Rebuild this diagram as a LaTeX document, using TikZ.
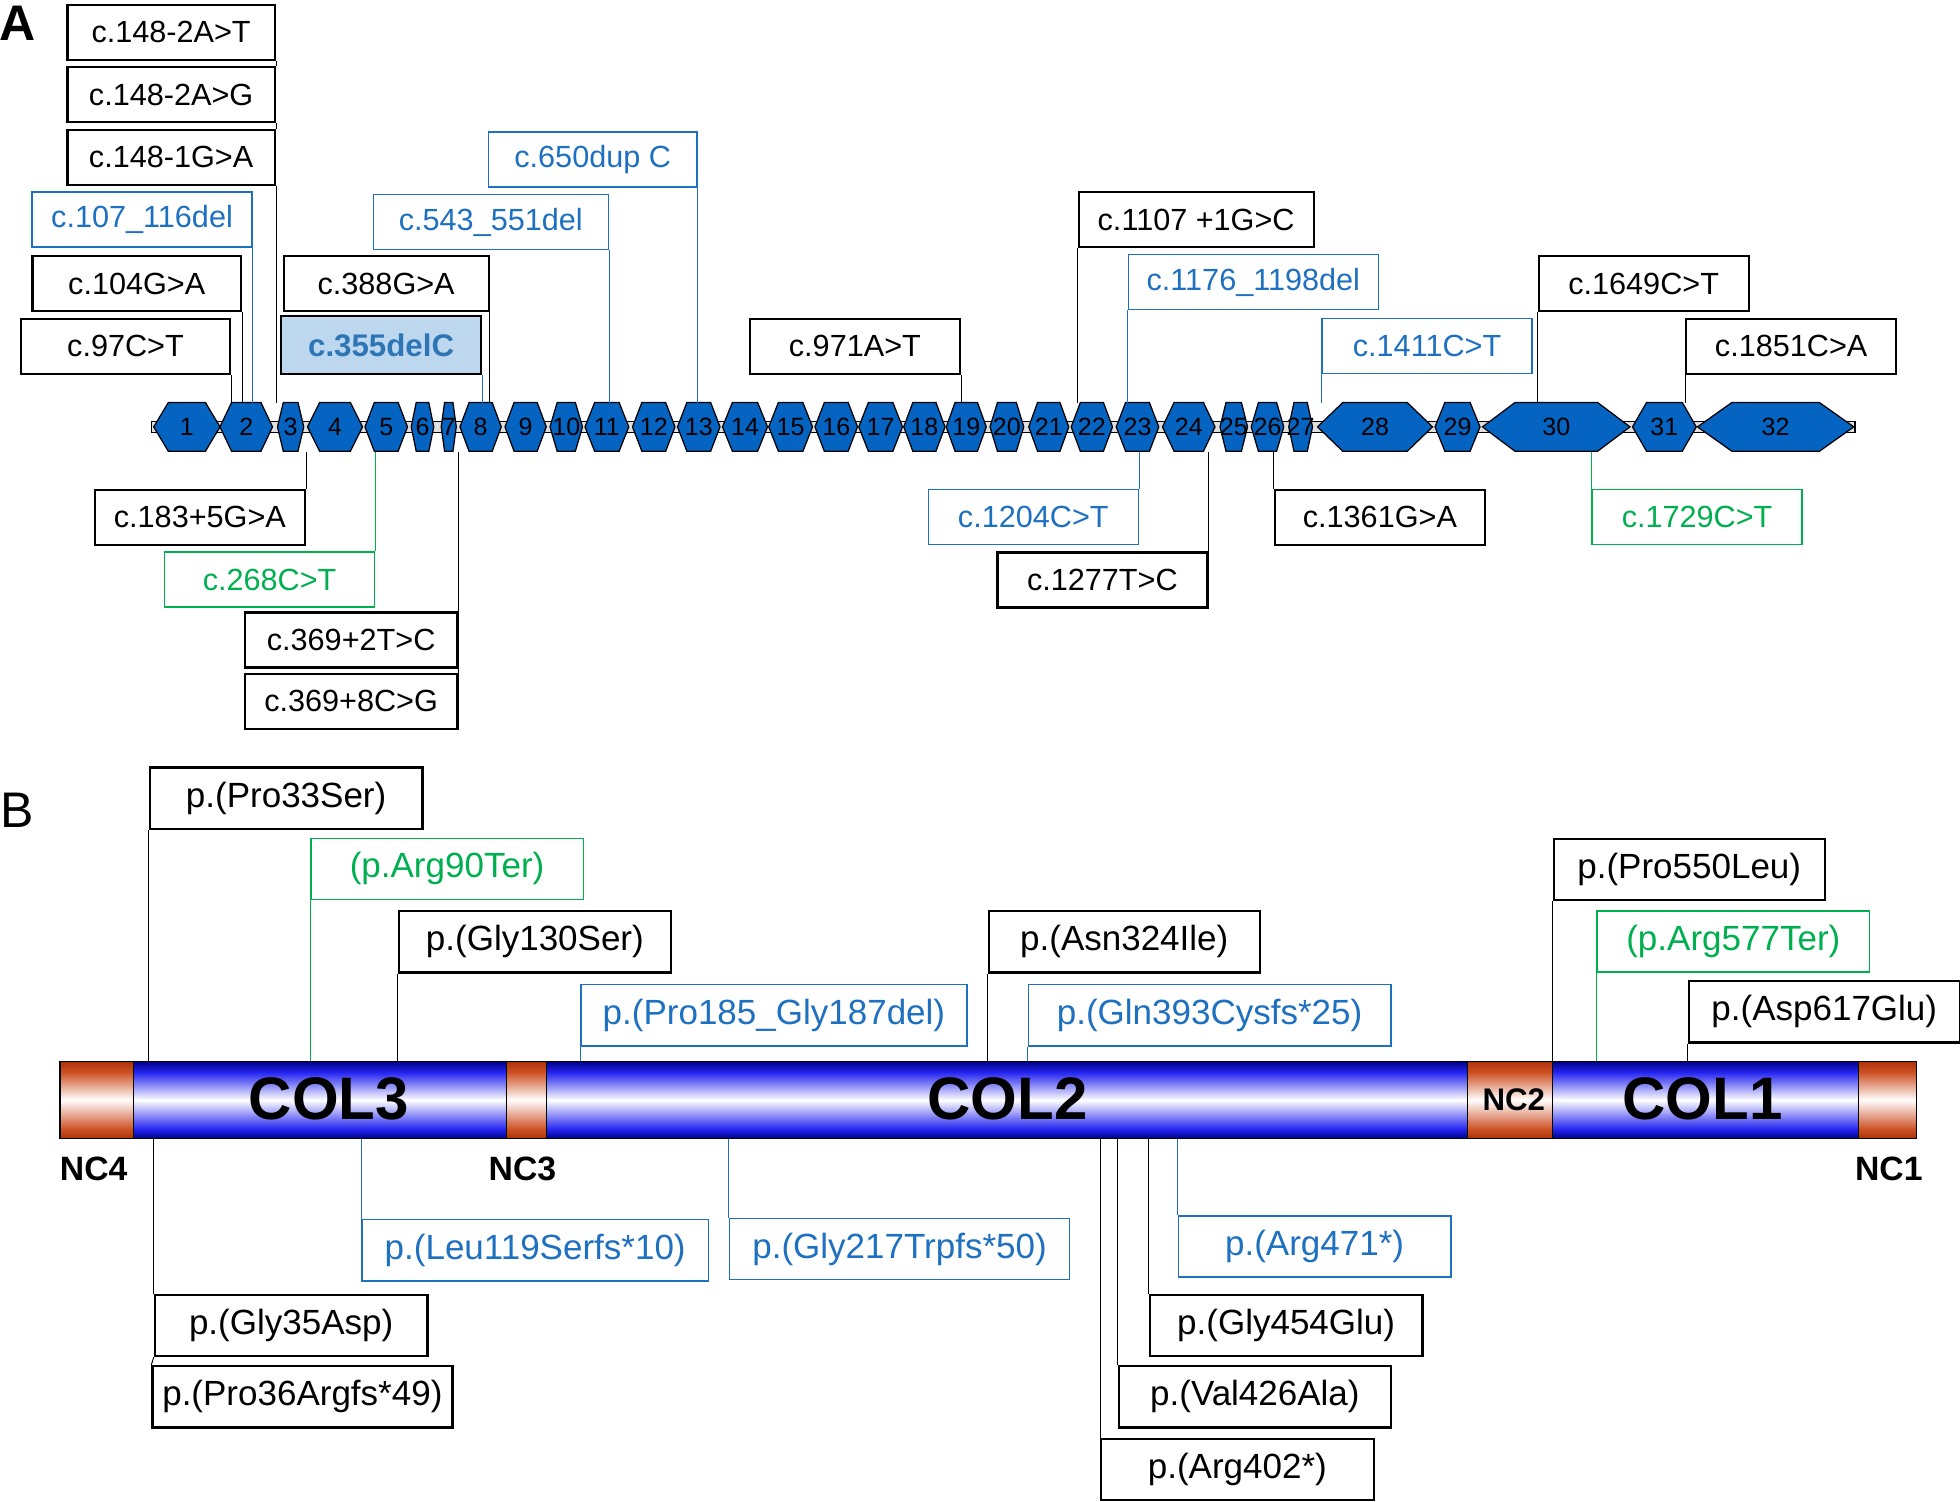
\documentclass[tikz,border=0pt]{standalone}
\usepackage{fontspec}
\setmainfont{Liberation Sans}
\definecolor{mutblue}{RGB}{30,112,192}
\definecolor{mutgreen}{RGB}{0,176,80}
\definecolor{exblue}{RGB}{5,99,193}
\definecolor{selfill}{RGB}{189,215,238}
\definecolor{seltext}{RGB}{46,117,182}
\definecolor{bardark}{RGB}{0,0,130}
\definecolor{barblue}{RGB}{35,35,240}
\definecolor{ncdark}{RGB}{170,50,10}
\definecolor{ncred}{RGB}{205,80,35}
\pgfdeclareverticalshading{colshade}{100bp}{color(0bp)=(bardark); color(25bp)=(bardark); color(31bp)=(barblue); color(50bp)=(white); color(68bp)=(barblue); color(75bp)=(bardark); color(100bp)=(bardark)}
\pgfdeclareverticalshading{ncshade}{100bp}{color(0bp)=(ncdark); color(25bp)=(ncdark); color(31bp)=(ncred); color(50bp)=(white); color(68bp)=(ncred); color(75bp)=(ncdark); color(100bp)=(ncdark)}
\newcommand{\Exon}[3]{%
  \pgfmathsetmacro{\exd}{0.22*(#3-#2)}%
  \draw[exon] (#2,341.5) -- ({#2+\exd},322) -- ({#3-\exd},322) -- (#3,341.5) -- ({#3-\exd},361) -- ({#2+\exd},361) -- cycle;
  \node[exnum] (ex#1) at ({(#2+#3)/2},341.5) {#1};}

\begin{document}
\begin{tikzpicture}[x=1pt,y=-1pt]
\useasboundingbox (0,0) rectangle (1568,1201);
\tikzset{mut/.style={draw=black, line width=1.8pt, fill=white, inner sep=0pt, anchor=north west, minimum height=44pt, text=black, font=\fontsize{24.5}{28}\selectfont}}
\tikzset{mutb/.style={mut, draw=mutblue, line width=1.3pt, text=mutblue}}
\tikzset{mutg/.style={mut, draw=mutgreen, line width=1.3pt, text=mutgreen}}
\tikzset{mutsel/.style={mut, fill=selfill, text=seltext, font=\fontsize{25}{28}\selectfont\bfseries}}
\tikzset{prot/.style={mut, minimum height=49pt, font=\fontsize{28}{32}\selectfont}}
\tikzset{protb/.style={prot, draw=mutblue, line width=1.3pt, text=mutblue}}
\tikzset{protg/.style={prot, draw=mutgreen, line width=1.3pt, text=mutgreen}}
\tikzset{link/.style={draw=black, line width=0.8pt}}
\tikzset{linkb/.style={draw=mutblue, line width=0.8pt}}
\tikzset{linkg/.style={draw=mutgreen, line width=0.8pt}}
\tikzset{exon/.style={fill=exblue, draw=black, line width=1pt}}
\tikzset{exnum/.style={inner sep=0pt, font=\fontsize{20}{22}\selectfont}}
\tikzset{dombox/.style={inner sep=0pt, font=\fontsize{48}{52}\selectfont\bfseries}}
\tikzset{nclab/.style={inner sep=0pt, font=\fontsize{27}{30}\selectfont\bfseries}}

\node[inner sep=0pt, font=\fontsize{40}{44}\selectfont\bfseries] (panelA) at (14,19) {A};
\node[inner sep=0pt, font=\fontsize{40}{44}\selectfont] (panelB) at (14,648) {B};

\node[inner sep=0pt, minimum width=1363pt, minimum height=39pt, anchor=north west] (row) at (121,322) {};
\draw[fill=gray!25, line width=1pt] (121,337) rectangle (1484,346);
\Exon{1}{123}{176}
\Exon{2}{176}{218}
\Exon{3}{222}{243}
\Exon{4}{246}{290}
\Exon{5}{292}{326}
\Exon{6}{329}{347}
\Exon{7}{353}{365}
\Exon{8}{368}{401}
\Exon{9}{404}{437}
\Exon{10}{440}{466}
\Exon{11}{468}{503}
\Exon{12}{506}{540}
\Exon{13}{542}{576}
\Exon{14}{578}{614}
\Exon{15}{615}{650}
\Exon{16}{652}{686}
\Exon{17}{687}{722}
\Exon{18}{723}{756}
\Exon{19}{757}{789}
\Exon{20}{792}{819}
\Exon{21}{823}{855}
\Exon{22}{857}{890}
\Exon{23}{893}{927}
\Exon{24}{930}{972}
\Exon{25}{976}{998}
\Exon{26}{1001}{1027}
\Exon{27}{1031}{1050}
\Exon{28}{1054}{1146}
\Exon{29}{1148}{1184}
\Exon{30}{1186}{1304}
\Exon{31}{1306}{1357}
\Exon{32}{1358}{1483}

\node[mut, minimum width=166pt] (m148c) at (53,3) {c.148-2A>T};
\node[mut, minimum width=166pt] (m148b) at (53,53) {c.148-2A>G};
\node[mut, minimum width=166pt] (m148a) at (53,103) {c.148-1G>A};
\node[mutb, minimum width=176pt] (m107) at (25,153) {c.107\_116del};
\node[mut, minimum width=167pt] (m104) at (25,204) {c.104G>A};
\node[mut, minimum width=167pt] (m97) at (16,254) {c.97C>T};
\node[mut, minimum width=164pt] (m388) at (226,204) {c.388G>A};
\node[mutsel, minimum width=160pt, minimum height=46pt] (m355) at (224,252) {c.355delC};
\node[mutb, minimum width=188pt] (m543) at (298,155) {c.543\_551del};
\node[mutb, minimum width=167pt] (m650) at (390,105) {c.650dup C};
\node[mut, minimum width=168pt] (m971) at (599,254) {c.971A>T};
\node[mut, minimum width=188pt] (m1107) at (862,153) {c.1107 +1G>C};
\node[mutb, minimum width=200pt] (m1176) at (902,203) {c.1176\_1198del};
\node[mutb, minimum width=168pt] (m1411) at (1057,254) {c.1411C>T};
\node[mut, minimum width=168pt] (m1649) at (1230,204) {c.1649C>T};
\node[mut, minimum width=168pt] (m1851) at (1348,254) {c.1851C>A};
\node[mut, minimum width=168pt] (m183) at (75,391) {c.183+5G>A};
\node[mutg, minimum width=168pt] (m268) at (131,441) {c.268C>T};
\node[mut, minimum width=170pt] (m369a) at (195,489) {c.369+2T>C};
\node[mut, minimum width=170pt] (m369b) at (195,538) {c.369+8C>G};
\node[mutb, minimum width=168pt] (m1204) at (742,391) {c.1204C>T};
\node[mut, minimum width=168pt] (m1277) at (797,441) {c.1277T>C};
\node[mut, minimum width=168pt] (m1361) at (1019,391) {c.1361G>A};
\node[mutg, minimum width=168pt] (m1729) at (1273,391) {c.1729C>T};

\draw[link] (m148c.south east) -- (m148b.north east);
\draw[link] (m148b.south east) -- (m148a.north east);
\draw[link] (m148a.south east) -- (m148a.south east |- row.north);
\draw[linkb] (m107.south east) -- (m107.south east |- row.north);
\draw[link] (m104.south east) -- (m104.south east |- row.north);
\draw[link] (m97.south east) -- (m97.south east |- row.north);
\draw[link] (m388.south east) -- (m388.south east |- row.north);
\draw[linkb] (m355.south east) -- (m355.south east |- row.north);
\draw[linkb] (m543.south east) -- (m543.south east |- row.north);
\draw[linkb] (m650.south east) -- (m650.south east |- row.north);
\draw[link] (m971.south east) -- (m971.south east |- row.north);
\draw[link] (m1107.south west) -- (m1107.south west |- row.north);
\draw[linkb] (m1176.south west) -- (m1176.south west |- row.north);
\draw[linkb] (m1411.south west) -- (m1411.south west |- row.north);
\draw[link] (m1649.south west) -- (m1649.south west |- row.north);
\draw[link] (m1851.south west) -- (m1851.south west |- row.north);
\draw[link] (m183.north east) -- (m183.north east |- row.south);
\draw[linkg] (m268.north east) -- (m268.north east |- row.south);
\draw[link] (m369a.north east) -- (m369a.north east |- row.south);
\draw[link] (m369b.north east) -- (m369a.south east);
\draw[linkb] (m1204.north east) -- (m1204.north east |- row.south);
\draw[link] (m1277.north east) -- (m1277.north east |- row.south);
\draw[link] (m1361.north west) -- (m1361.north west |- row.south);
\draw[linkg] (m1729.north west) -- (m1729.north west |- row.south);

\node[inner sep=0pt, minimum width=1485pt, minimum height=62pt, anchor=north west] (bar) at (48,849) {};
\shadedraw[shading=ncshade, line width=1pt] (48,849) rectangle (107,911);
\shadedraw[shading=colshade, line width=1pt] (107,849) rectangle (405,911);
\shadedraw[shading=ncshade, line width=1pt] (405,849) rectangle (437,911);
\shadedraw[shading=colshade, line width=1pt] (437,849) rectangle (1174,911);
\shadedraw[shading=ncshade, line width=1pt] (1174,849) rectangle (1242,911);
\shadedraw[shading=colshade, line width=1pt] (1242,849) rectangle (1487,911);
\shadedraw[shading=ncshade, line width=1pt] (1487,849) rectangle (1533,911);
\node[dombox] (col3) at (263,879) {COL3};
\node[dombox] (col2) at (806,879) {COL2};
\node[dombox] (col1) at (1362,879) {COL1};
\node[nclab, font=\fontsize{25}{28}\selectfont\bfseries] (nc2) at (1211,880) {NC2};
\node[nclab] (nc4) at (75,935) {NC4};
\node[nclab] (nc3) at (418,935) {NC3};
\node[nclab] (nc1) at (1511,935) {NC1};

\node[prot, minimum width=218pt] (pPro33) at (119,613) {p.(Pro33Ser)};
\node[protg, minimum width=218pt] (pArg90) at (248,670) {(p.Arg90Ter)};
\node[prot, minimum width=218pt] (pGly130) at (318,728) {p.(Gly130Ser)};
\node[protb, minimum width=309pt] (pPro185) at (464,787) {p.(Pro185\_Gly187del)};
\node[prot, minimum width=217pt] (pAsn324) at (790,728) {p.(Asn324Ile)};
\node[protb, minimum width=290pt] (pGln393) at (822,787) {p.(Gln393Cysfs*25)};
\node[prot, minimum width=217pt] (pPro550) at (1242,670) {p.(Pro550Leu)};
\node[protg, minimum width=218pt] (pArg577) at (1277,728) {(p.Arg577Ter)};
\node[prot, minimum width=217pt] (pAsp617) at (1350,784) {p.(Asp617Glu)};
\node[protb, minimum width=277pt] (pLeu119) at (289,975) {p.(Leu119Serfs*10)};
\node[protb, minimum width=272pt] (pGly217) at (583,974) {p.(Gly217Trpfs*50)};
\node[protb, minimum width=218pt] (pArg471) at (942,972) {p.(Arg471*)};
\node[prot, minimum width=218pt] (pGly454) at (919,1035) {p.(Gly454Glu)};
\node[prot, minimum width=218pt] (pVal426) at (894,1092) {p.(Val426Ala)};
\node[prot, minimum width=218pt] (pArg402) at (880,1150) {p.(Arg402*)};
\node[prot, minimum width=218pt] (pGly35) at (123,1035) {p.(Gly35Asp)};
\node[prot, minimum width=240pt] (pPro36) at (121,1092) {p.(Pro36Argfs*49)};

\draw[link] (pPro33.south west) -- (pPro33.south west |- bar.north);
\draw[linkg] (pArg90.south west) -- (pArg90.south west |- bar.north);
\draw[link] (pGly130.south west) -- (pGly130.south west |- bar.north);
\draw[linkb] (pPro185.south west) -- (pPro185.south west |- bar.north);
\draw[link] (pAsn324.south west) -- (pAsn324.south west |- bar.north);
\draw[linkb] (pGln393.south west) -- (pGln393.south west |- bar.north);
\draw[link] (pPro550.south west) -- (pPro550.south west |- bar.north);
\draw[linkg] (pArg577.south west) -- (pArg577.south west |- bar.north);
\draw[link] (pAsp617.south west) -- (pAsp617.south west |- bar.north);
\draw[linkb] (pLeu119.north west) -- (pLeu119.north west |- bar.south);
\draw[linkb] (pGly217.north west) -- (pGly217.north west |- bar.south);
\draw[linkb] (pArg471.north west) -- (pArg471.north west |- bar.south);
\draw[link] (pGly454.north west) -- (pGly454.north west |- bar.south);
\draw[link] (pVal426.north west) -- (pVal426.north west |- bar.south);
\draw[link] (pArg402.north west) -- (pArg402.north west |- bar.south);
\draw[link] (pGly35.north west) -- (pGly35.north west |- bar.south);
\draw[link] (pPro36.north west) -- (pGly35.south west);
\end{tikzpicture}
\end{document}
